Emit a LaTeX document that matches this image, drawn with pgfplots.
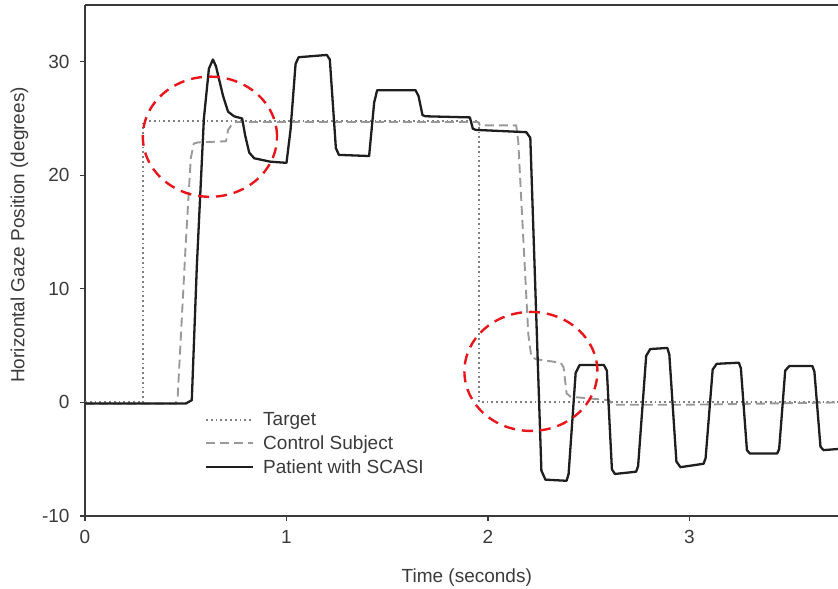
\documentclass[border=0pt]{standalone}
\usepackage{pgfplots}
\pgfplotsset{compat=1.18}
\usepackage{fontspec}
\setmainfont{Liberation Sans}
\definecolor{axgray}{HTML}{3A3A3A}
\definecolor{tgtgray}{HTML}{808080}
\definecolor{ctlgray}{HTML}{999999}
\definecolor{patblack}{HTML}{1E1E1E}
\definecolor{circred}{HTML}{E8161B}
\newcommand{\chartfont}{\fontsize{19}{23.5}\selectfont}
\begin{document}
\begin{tikzpicture}
\begin{axis}[name=ax, scale only axis, width=753pt, height=511pt,
  xmin=0, xmax=3.737, ymin=-10, ymax=35,
  axis x line*=bottom, axis y line*=left,
  axis line style={line width=1.6pt, color=axgray},
  xtick={0,1,2,3}, xticklabels={0,1,2,3},
  ytick={-10,0,10,20,30}, yticklabels={-10,0,10,20,30},
  tick align=outside, major tick length=5pt,
  tick style={line width=1.2pt, color=axgray},
  ticklabel style={font=\chartfont, color=axgray},
  xticklabel style={yshift=-6pt},
  yticklabel style={xshift=-7pt},
  xlabel={Time (seconds)}, ylabel={Horizontal Gaze Position (degrees)},
  label style={font=\chartfont, color=axgray},
  xlabel style={at={(axis description cs:0.507,-0.121)}, anchor=center},
  ylabel style={at={(axis description cs:-0.087,0.55)}, anchor=center},
  legend style={draw=none, fill=none, at={(rel axis cs:0.159,0.207)}, anchor=north west,
    font=\chartfont, text=axgray, row sep=4.5pt, column sep=7pt, inner sep=0pt},
  legend cell align=left,
  legend image code/.code={\draw[#1] (0pt,0pt) -- (47pt,0pt);},
]
\addplot[tgtgray, line width=2.1pt, dash pattern=on 1.8pt off 3pt] coordinates {
(0,0) (0.288,0) (0.288,24.8) (1.955,24.8) (1.955,0) (3.737,0)};
\addlegendentry{Target}
\addplot[ctlgray, line width=1.9pt, dash pattern=on 9pt off 5pt] coordinates {
(0,-0.1) (0.45,-0.1) (0.46,0.5) (0.50,14) (0.525,21.5) (0.54,22.8) (0.56,22.9) (0.70,23.0)
(0.71,24.0) (0.73,24.5) (0.75,24.7) (1.95,24.7) (1.96,24.4) (2.14,24.4) (2.15,23.0)
(2.20,6.0) (2.215,4.0) (2.24,3.8) (2.36,3.5) (2.375,3.1) (2.39,0.8) (2.41,0.5)
(2.60,0.2) (2.62,-0.2) (3.00,-0.2) (3.737,0)};
\addlegendentry{Control Subject}
\addplot[patblack, line width=2.3pt, line join=round] coordinates {
(0,-0.1) (0.50,-0.1) (0.53,0.2) (0.555,12) (0.59,25) (0.615,29.4) (0.635,30.2) (0.65,29.6)
(0.685,27) (0.71,25.6) (0.74,25.2) (0.78,25.0) (0.795,23.5) (0.815,22.0) (0.84,21.5)
(0.92,21.2) (1.00,21.1) (1.02,24.0) (1.045,29.8) (1.06,30.4) (1.20,30.6) (1.215,30.2)
(1.245,22.4) (1.26,21.8) (1.41,21.7) (1.435,26.4) (1.45,27.5) (1.64,27.5) (1.655,27.0)
(1.675,25.3) (1.69,25.2) (1.91,25.1) (1.925,24.1) (1.94,24.0) (2.19,23.8) (2.21,23.3)
(2.265,-6.0) (2.285,-6.8) (2.39,-6.9) (2.40,-6.3) (2.435,2.6) (2.455,3.3) (2.575,3.3)
(2.59,2.8) (2.615,-5.9) (2.63,-6.3) (2.735,-6.1) (2.745,-5.6) (2.785,4.1) (2.805,4.7)
(2.89,4.8) (2.90,4.2) (2.935,-5.2) (2.955,-5.7) (3.07,-5.4) (3.08,-4.9) (3.115,2.9)
(3.135,3.4) (3.245,3.5) (3.255,3.0) (3.285,-4.2) (3.30,-4.5) (3.435,-4.5) (3.445,-4.1)
(3.475,2.8) (3.495,3.2) (3.61,3.2) (3.62,2.7) (3.65,-3.9) (3.665,-4.2) (3.737,-4.1)};
\addlegendentry{Patient with SCASI}
\draw[circred, line width=2.4pt, dash pattern=on 11pt off 7pt] (axis cs:0.62,23.4) ellipse [x radius=0.333, y radius=5.29];
\draw[circred, line width=2.4pt, dash pattern=on 11pt off 7pt] (axis cs:2.213,2.73) ellipse [x radius=0.330, y radius=5.24];
\draw[axgray, line width=1.6pt] (rel axis cs:0,1) -- (rel axis cs:1,1);
\end{axis}
\pgfresetboundingbox
\path ([xshift=-85pt,yshift=-73pt]ax.south west) rectangle ([yshift=5pt]ax.north east);
\end{tikzpicture}
\end{document}
